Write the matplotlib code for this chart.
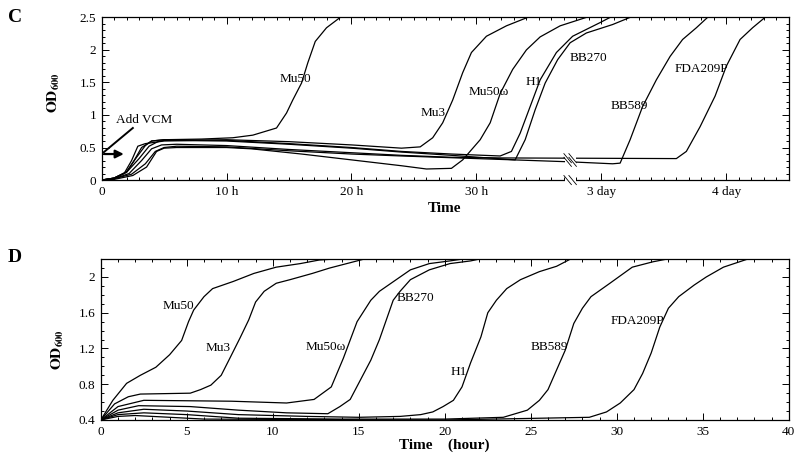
import matplotlib
import matplotlib.pyplot as plt
import numpy as np
from matplotlib.ticker import MultipleLocator

matplotlib.use("agg")
plt.rcParams["font.family"] = ["Liberation Serif", "DejaVu Serif"]
plt.rcParams["mathtext.fontset"] = "stix"

# ---- panel C : x in axis units (hours up to the break, then 3 day = 40, 4 day = 50)
c_ticks = [0, 10, 20, 30, 40, 50]
c_ticklabels = ["0", "10 h", "20 h", "30 h", "3 day", "4 day"]
c_break = 37.5

c_curves = {
    "Mu50": (
        [0, 1, 2, 2.6, 3.2, 4, 5, 8, 10.5, 12.1, 14, 14.8, 15.3, 16, 16.5, 17.1, 18, 19.1],
        [0, 0.03, 0.12, 0.3, 0.5, 0.6, 0.62, 0.63, 0.65, 0.69, 0.8, 1.03, 1.23, 1.49, 1.8, 2.13, 2.34, 2.5],
    ),
    "Mu3": (
        [0, 1, 1.8, 2.4, 2.9, 3.5, 5, 10, 15, 20, 24, 25.5, 26.5, 27.3, 28.1, 28.9, 29.6, 30.8, 32.4, 34.1],
        [0, 0.03, 0.1, 0.3, 0.52, 0.56, 0.6, 0.62, 0.59, 0.54, 0.49, 0.51, 0.65, 0.88, 1.23, 1.65, 1.96, 2.21, 2.37, 2.5],
    ),
    "Mu50ω": (
        [0, 1, 2.5, 3.6, 4.4, 5, 6, 10, 12, 16, 20, 24, 26, 28, 28.9, 30.3, 31.1, 31.9, 32.9, 34, 35.1, 36.7, 38.8],
        [0, 0.01, 0.07, 0.2, 0.44, 0.49, 0.5, 0.5, 0.48, 0.4, 0.31, 0.22, 0.17, 0.18, 0.31, 0.62, 0.88, 1.33, 1.7, 2.0, 2.2, 2.37, 2.5],
    ),
    "H1": (
        [0, 1, 2, 2.8, 3.5, 4, 5, 10, 15, 20, 24, 28, 31.9, 32.8, 33.5, 34.3, 35.1, 36.4, 37.7, 39.9, 40.7],
        [0, 0.03, 0.13, 0.35, 0.53, 0.6, 0.62, 0.61, 0.56, 0.5, 0.44, 0.4, 0.37, 0.44, 0.72, 1.13, 1.54, 1.96, 2.21, 2.42, 2.5],
    ),
    "BB270": (
        [0, 1, 2, 3, 3.8, 4.5, 5, 10, 15, 20, 24, 28, 33.1, 33.9, 34.7, 35.5, 36.5, 37.5, 38.8, 40.9, 42.3],
        [0, 0.03, 0.12, 0.33, 0.52, 0.59, 0.61, 0.6, 0.55, 0.49, 0.43, 0.38, 0.31, 0.62, 1.08, 1.49, 1.85, 2.11, 2.26, 2.39, 2.5],
    ),
    "BB589": (
        [0, 1, 2.4, 3.5, 4.3, 5, 6, 10, 15, 20, 24, 30, 37.5, 40.9, 41.5, 42.3, 43.3, 44.4, 45.5, 46.5, 47.6, 48.5],
        [0, 0.02, 0.09, 0.25, 0.44, 0.5, 0.52, 0.51, 0.45, 0.4, 0.37, 0.33, 0.28, 0.25, 0.26, 0.62, 1.13, 1.54, 1.9, 2.16, 2.34, 2.5],
    ),
    "FDA209P": (
        [0, 1, 2.2, 3.2, 4, 4.8, 6, 10, 15, 20, 24, 28, 32, 46, 46.8, 47.9, 49.1, 50, 51.1, 52.1, 53.1],
        [0, 0.02, 0.1, 0.3, 0.48, 0.54, 0.55, 0.53, 0.47, 0.42, 0.38, 0.35, 0.34, 0.33, 0.44, 0.82, 1.29, 1.75, 2.16, 2.34, 2.5],
    ),
}

c_labels = {
    "Mu50": (15.5, 1.55),
    "Mu3": (26.5, 1.03),
    "Mu50ω": (31.0, 1.36),
    "H1": (34.6, 1.5),
    "BB270": (39.0, 1.88),
    "BB589": (42.2, 1.14),
    "FDA209P": (48.0, 1.7),
}

# ---- panel D : hours
d_curves = {
    "Mu50": (
        [0, 0.7, 1.5, 2.3, 3.2, 4.0, 4.7, 5.1, 5.4, 6.0, 6.5, 7.7, 8.9, 10.2, 11.6, 12.7, 13.5, 15],
        [0.4, 0.62, 0.81, 0.9, 0.99, 1.13, 1.29, 1.5, 1.63, 1.78, 1.87, 1.95, 2.04, 2.11, 2.15, 2.19, 2.2, 2.2],
    ),
    "Mu3": (
        [0, 0.8, 1.6, 2.3, 5.2, 5.8, 6.4, 7.0, 7.5, 8.1, 8.6, 9.0, 9.5, 10.2, 11.0, 12.3, 13.3, 14.3, 15.3],
        [0.4, 0.58, 0.66, 0.69, 0.7, 0.74, 0.79, 0.9, 1.09, 1.32, 1.52, 1.72, 1.84, 1.93, 1.97, 2.04, 2.1, 2.15, 2.2],
    ),
    "Mu50ω": (
        [0, 1, 2.5, 7.6, 10.8, 12.4, 13.4, 14.1, 14.9, 15.7, 16.2, 17.4, 18.0, 19.1, 20.3, 21.0],
        [0.4, 0.55, 0.62, 0.61, 0.59, 0.63, 0.77, 1.09, 1.5, 1.74, 1.84, 2.0, 2.08, 2.15, 2.18, 2.2],
    ),
    "BB270": (
        [0, 1, 2.2, 5.2, 8, 10.8, 13.2, 13.9, 14.5, 15.1, 15.7, 16.2, 17.0, 17.4, 18.0, 19.1, 20.3, 21.5, 22.0],
        [0.4, 0.51, 0.56, 0.55, 0.51, 0.48, 0.47, 0.55, 0.63, 0.85, 1.07, 1.3, 1.74, 1.84, 1.97, 2.08, 2.15, 2.18, 2.2],
    ),
    "H1": (
        [0, 1, 2.5, 5, 8, 12, 15, 17.4, 18.6, 19.3, 19.9, 20.5, 21.0, 21.5, 22.1, 22.5, 23.0, 23.6, 24.4, 25.5, 26.5, 27.3],
        [0.4, 0.48, 0.52, 0.5, 0.46, 0.44, 0.43, 0.44, 0.46, 0.49, 0.55, 0.62, 0.77, 1.04, 1.33, 1.6, 1.74, 1.87, 1.97, 2.06, 2.12, 2.2],
    ),
    "BB589": (
        [0, 1, 2.5, 5, 8, 14, 20, 23.4, 24.8, 25.5, 26.0, 26.5, 27.0, 27.5, 28.0, 28.5, 29.6, 30.9, 32.1, 32.9],
        [0.4, 0.46, 0.48, 0.46, 0.42, 0.41, 0.41, 0.43, 0.51, 0.62, 0.74, 0.96, 1.18, 1.48, 1.65, 1.78, 1.93, 2.11, 2.17, 2.2],
    ),
    "FDA209P": (
        [0, 1, 2, 4, 6, 12, 20, 28.4, 29.4, 30.2, 31.0, 31.5, 32.0, 32.5, 33.0, 33.6, 34.5, 35.2, 36.2, 37.6],
        [0.4, 0.44, 0.45, 0.43, 0.41, 0.405, 0.4, 0.43, 0.49, 0.59, 0.74, 0.92, 1.15, 1.44, 1.65, 1.78, 1.91, 2.0, 2.11, 2.2],
    ),
}

d_labels = {
    "Mu50": (4.5, 1.68),
    "Mu3": (6.8, 1.2),
    "Mu50ω": (13.1, 1.22),
    "BB270": (18.3, 1.76),
    "H1": (20.8, 0.94),
    "BB589": (26.1, 1.22),
    "FDA209P": (31.2, 1.51),
}

fig = plt.figure(figsize=(8, 4.57), dpi=100)
axc = fig.add_axes([0.127, 0.606, 0.859, 0.356])
axd = fig.add_axes([0.126, 0.081, 0.860, 0.352])

lw = 0.9
for name, (x, y) in c_curves.items():
    axc.plot(x, y, color="black", lw=lw, zorder=2)
for name, (x, y) in d_curves.items():
    axd.plot(x, y, color="black", lw=lw, zorder=2)

for name, (x, y) in c_labels.items():
    axc.text(x, y, name, ha="center", va="center", fontsize=9.5)
for name, (x, y) in d_labels.items():
    axd.text(x, y, name, ha="center", va="center", fontsize=9.5)

# axes C
axc.set_xlim(0, 55)
axc.set_ylim(0, 2.5)
axc.set_xticks(c_ticks)
axc.set_xticklabels(c_ticklabels)
axc.set_yticks([0, 0.5, 1, 1.5, 2, 2.5])
axc.set_yticklabels(["0", "0.5", "1", "1.5", "2", "2.5"])
axc.xaxis.set_minor_locator(MultipleLocator(1))
axc.yaxis.set_minor_locator(MultipleLocator(0.1))

# axes D
axd.set_xlim(0, 40)
axd.set_ylim(0.4, 2.2)
axd.set_xticks([0, 5, 10, 15, 20, 25, 30, 35, 40])
axd.set_yticks([0.4, 0.8, 1.2, 1.6, 2.0])
axd.set_yticklabels(["0.4", "0.8", "1.2", "1.6", "2"])
axd.xaxis.set_minor_locator(MultipleLocator(1))
axd.yaxis.set_minor_locator(MultipleLocator(0.1))

for ax in (axc, axd):
    ax.tick_params(which="both", direction="in", top=True, right=True,
                   labelsize=9.5, width=0.7)
    ax.tick_params(which="major", length=5, pad=4)
    ax.tick_params(which="minor", length=2.5)
    for s in ax.spines.values():
        s.set_linewidth(0.9)

axc.set_ylabel(r"$\mathbf{OD}_{\mathbf{600}}$", fontsize=11)
axc.yaxis.set_label_coords(-0.058, 0.535)
axd.set_ylabel(r"$\mathbf{OD}_{\mathbf{600}}$", fontsize=11)
axd.yaxis.set_label_coords(-0.05, 0.435)

fig.text(444 / 800, 1 - 208 / 457, "Time", ha="center", va="center",
         fontsize=11, fontweight="bold")
fig.text(444 / 800, 1 - 445 / 457, "Time    (hour)", ha="center", va="center",
         fontsize=11, fontweight="bold")
fig.text(15 / 800, 1 - 17 / 457, "C", ha="center", va="center",
         fontsize=14, fontweight="bold")
fig.text(15 / 800, 1 - 258 / 457, "D", ha="center", va="center",
         fontsize=14, fontweight="bold")

# Add VCM arrow
axc.annotate("", xy=(2.0, 0.4), xytext=(0, 0.4),
             arrowprops=dict(arrowstyle="-|>", color="black", lw=1.6,
                             mutation_scale=12), zorder=4)
axc.plot([0, 2.5], [0.4, 0.8], color="black", lw=1.4, zorder=4)
axc.text(3.4, 0.92, "Add VCM", ha="center", va="center", fontsize=9.5)

# axis break marks on the bottom spine and the two flat lines
break_ys = [0.0,
            float(np.interp(c_break, *c_curves["FDA209P"])),
            float(np.interp(c_break, *c_curves["BB589"]))]
for yb in break_ys:
    axc.plot([c_break - 0.45, c_break + 0.45], [yb, yb], color="white",
             lw=3, zorder=5, clip_on=False, solid_capstyle="butt")
    for dx in (-0.2, 0.2):
        axc.plot([c_break + dx - 0.3, c_break + dx + 0.3],
                 [yb + 0.07, yb - 0.07], color="black", lw=0.6, zorder=6,
                 clip_on=False)

plt.savefig("out.png", dpi=100)
plt.close()
